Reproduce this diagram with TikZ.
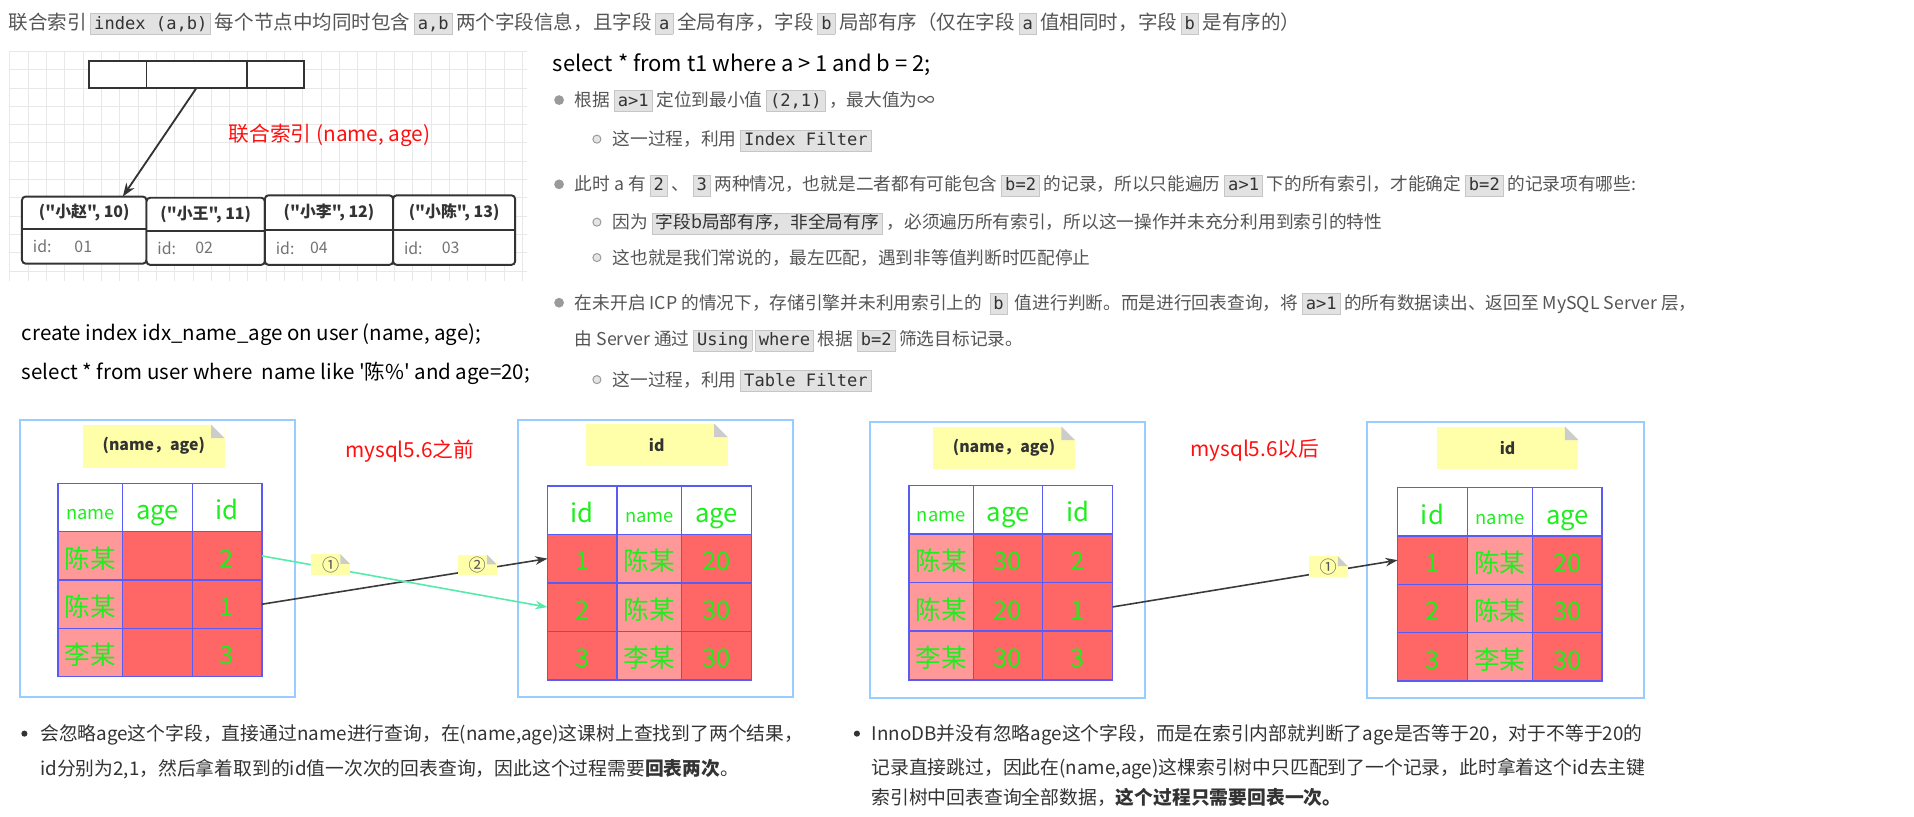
\documentclass[tikz,border=0pt]{standalone}
\usepackage{fontspec}
\setmainfont{Noto Sans CJK SC}[Ligatures=TeXOff]
\newfontfamily\mono{DejaVu Sans Mono}
\usetikzlibrary{arrows.meta,calc}
\definecolor{txg}{HTML}{555555}
\definecolor{bt}{HTML}{333333}
\definecolor{cdbg}{HTML}{E2E2E2}
\definecolor{cdbd}{HTML}{C6C6C6}
\definecolor{cdtx}{HTML}{333333}
\definecolor{gridc}{HTML}{E8E8E8}
\definecolor{pblue}{HTML}{99CCFF}
\definecolor{tbl}{HTML}{5A5AF5}
\definecolor{redA}{HTML}{FF6666}
\definecolor{redB}{HTML}{FF9999}
\definecolor{grn}{HTML}{1EEE1E}
\definecolor{yel}{HTML}{FFFFAA}
\definecolor{earc}{HTML}{CCCCCC}
\definecolor{mint}{HTML}{55EBA8}
\definecolor{darr}{HTML}{3A3A3A}
\definecolor{lbl}{HTML}{FF1010}
\definecolor{lfc}{HTML}{333333}
\definecolor{bul}{HTML}{9A9A9A}
\setlength\fboxsep{0pt}
\setlength\fboxrule{0.7pt}
\newcommand\cd[1]{\kern3pt\fcolorbox{cdbd}{cdbg}{\kern2.5pt\vrule width0pt height12.5pt depth4pt{\mono\fontsize{14}{16}\selectfont\color{cdtx}#1}\kern2.5pt}\kern3pt}
\newcommand\cdz[1]{\kern3pt\fcolorbox{cdbd}{cdbg}{\kern2.5pt\vrule width0pt height12.5pt depth4pt{\color{cdtx}#1}\kern2.5pt}\kern3pt}
\newcommand\dogear[2]{%
 \fill[white] ([xshift=-#2]#1.north east) -- (#1.north east) -- ([yshift=-#2]#1.north east) -- cycle;
 \fill[earc] ([xshift=-#2]#1.north east) -- ([xshift=-#2,yshift=-#2]#1.north east) -- ([yshift=-#2]#1.north east) -- cycle;}
\newcommand\cell[7]{\node[cellbox, fill=#6, minimum width=#4, minimum height=#5] (#1) at (#2,#3) {#7};}
\newcommand\nm{\fontsize{15}{18}\selectfont name}
\begin{document}
\begin{tikzpicture}[x=1pt,y=-1pt,
 every node/.style={inner sep=0pt, outer sep=0pt},
 lst/.style={anchor=base west, font=\fontsize{14.5}{17}\selectfont, text=txg},
 btx/.style={anchor=base west, font=\fontsize{15.4}{18}\selectfont, text=bt},
 sqlt/.style={anchor=base west, font=\fontsize{16.8}{19}\selectfont, text=black},
 cellbox/.style={draw=tbl, line width=1.2pt, anchor=north west, text=grn, font=\fontsize{21}{24}\selectfont, text height=21pt, text depth=1pt},
 note/.style={fill=yel, text=bt, font=\bfseries\fontsize{13}{15}\selectfont, minimum width=116, minimum height=35},
 tag/.style={fill=yel, text=txg, font=\fontsize{14}{16}\selectfont, minimum width=32, minimum height=17},
 panel/.style={draw=pblue, line width=1.6pt},
 leaf/.style={draw=lfc, line width=1.6pt, rounded corners=3pt, fill=white, anchor=north west},
 lfh/.style={font=\bfseries\fontsize{13}{15}\selectfont, text=bt},
 lfb/.style={anchor=west, font=\fontsize{13}{15}\selectfont, text=black!55},
 redlab/.style={font=\fontsize{17}{20}\selectfont, text=lbl},
 darrow/.style={darr, line width=1.3pt, -{Stealth[length=10pt,width=7pt]}},
 marrow/.style={mint, line width=1.3pt, -{Stealth[length=10pt,width=7pt]}}
]
\useasboundingbox (0,0) rectangle (1568,669.3);
\fill[white] (0,0) rectangle (1568,669.3);

% ---- line 1
\node[anchor=base west, font=\fontsize{16}{19}\selectfont, text=txg] (line1) at (7,23.9)
 {联合索引\cd{index (a,b)}每个节点中均同时包含\cd{a,b}两个字段信息，且字段\cd{a}全局有序，字段\cd{b}局部有序（仅在字段\cd{a}值相同时，字段\cd{b}是有序的）};

% ---- top-left B+ tree
\foreach \gx in {8,23,...,428} \draw[gridc, line width=0.6pt] (\gx,42) -- (\gx,230);
\foreach \gy in {42,57,...,222} \draw[gridc, line width=0.6pt] (8,\gy) -- (432,\gy);
\node[draw=lfc, line width=1.6pt, fill=white, minimum width=176, minimum height=22, anchor=north west] (root) at (73,50) {};
\draw[lfc, line width=1.6pt] (120,50) -- (120,72) (202,50) -- (202,72);
\node[leaf, minimum width=102, minimum height=55] (L1) at (18,161) {};
\node[leaf, minimum width=97, minimum height=55] (L2) at (120,162) {};
\node[leaf, minimum width=105, minimum height=57] (L3) at (217,160) {};
\node[leaf, minimum width=100, minimum height=57] (L4) at (322,160) {};
\draw[lfc, line width=1.6pt] (18,187.5) -- (120,187.5) (120,189) -- (217,189) (217,188.5) -- (322,188.5) (322,188.5) -- (422,188.5);
\node[lfh] (L1h) at (69,174.5) {("小赵", 10)};
\node[lfh] (L2h) at (168.5,175.5) {("小王", 11)};
\node[lfh] (L3h) at (269.5,174) {("小李", 12)};
\node[lfh] (L4h) at (372,174) {("小陈", 13)};
\node[lfb] (L1i) at (27,202) {id:};  \node[lfb] (L1v) at (61,202) {01};
\node[lfb] (L2i) at (129,203) {id:}; \node[lfb] (L2v) at (160,203) {02};
\node[lfb] (L3i) at (226,203) {id:}; \node[lfb] (L3v) at (254,203) {04};
\node[lfb] (L4i) at (331,203) {id:}; \node[lfb] (L4v) at (362,203) {03};
\draw[lfc, line width=1.5pt, -{Stealth[length=11pt,width=8pt]}] (root.south) -- ($(L1.north west)!0.81!(L1.north east)$);
\node[redlab] (lab1) at (270,110.5) {联合索引 (name, age)};

% ---- right list
\node[anchor=base west, font=\fontsize{18}{21}\selectfont, text=black] (sq1) at (453,58.5) {select * from t1 where a > 1 and b = 2;};
\fill[bul] (458,82) circle (4pt);
\node[lst] (b1) at (471,87.3) {根据\cd{a>1}定位到最小值\cd{(2,1)}，最大值为∞};
\filldraw[fill=black!10, draw=bul, line width=0.8pt] (489,114) circle (3.3pt);
\node[lst] (s1) at (502,119.3) {这一过程，利用\cd{Index Filter}};
\fill[bul] (458,151) circle (4pt);
\node[lst] (b2) at (471,156.3) {此时 a 有\cd{2}、\cd{3}两种情况，也就是二者都有可能包含\cd{b=2}的记录，所以只能遍历\cd{a>1}下的所有索引，才能确定\cd{b=2}的记录项有哪些:};
\filldraw[fill=black!10, draw=bul, line width=0.8pt] (489,182) circle (3.3pt);
\node[lst] (s2) at (502,187.3) {因为\cdz{字段b局部有序，非全局有序}，必须遍历所有索引，所以这一操作并未充分利用到索引的特性};
\filldraw[fill=black!10, draw=bul, line width=0.8pt] (489,211) circle (3.3pt);
\node[lst] (s3) at (502,216.3) {这也就是我们常说的，最左匹配，遇到非等值判断时匹配停止};
\fill[bul] (458,248) circle (4pt);
\node[lst] (b3) at (471,253.3) {在未开启 ICP 的情况下，存储引擎并未利用索引上的\kern3pt\cd{b}\kern3pt值进行判断。而是进行回表查询，将\cd{a>1}的所有数据读出、返回至 MySQL Server 层，};
\node[lst] (b3b) at (471,283.3) {由 Server 通过\cd{Using}\kern-4pt\cd{where}根据\cd{b=2}筛选目标记录。};
\filldraw[fill=black!10, draw=bul, line width=0.8pt] (489,311) circle (3.3pt);
\node[lst] (s4) at (502,316.3) {这一过程，利用\cd{Table Filter}};

% ---- SQL on the left
\node[sqlt] (cr1) at (18,279) {create index idx\_name\_age on user (name, age);};
\node[sqlt] (cr2) at (18,310.5) {select * from user where~~name like '陈\%' and age=20;};

% ---- panels
\draw[panel] (16,344) rectangle (242,571);
\draw[panel] (424,344) rectangle (650,571);
\draw[panel] (713,346) rectangle (938,572);
\draw[panel] (1120,346) rectangle (1347,572);

\node[note] (N1) at (126,365.5) {(name，age)};
\node[note] (N2) at (538,364.5) {id};
\node[note] (N3) at (822.5,367) {(name，age)};
\node[note] (N4) at (1235,367) {id};
\dogear{N1}{11}\dogear{N2}{11}\dogear{N3}{11}\dogear{N4}{11}

\node[redlab] (lab2) at (335.7,370) {mysql5.6之前};
\node[redlab] (lab3) at (1028,369) {mysql5.6以后};

% table A
\cell{A01}{47.5}{396}{53}{39.6}{white}{\nm}
\cell{A02}{100.5}{396}{57}{39.6}{white}{age}
\cell{A03}{157.5}{396}{57}{39.6}{white}{id}
\cell{A11}{47.5}{435.6}{53}{39.6}{redB}{陈某}
\cell{A12}{100.5}{435.6}{57}{39.6}{redA}{}
\cell{A13}{157.5}{435.6}{57}{39.6}{redA}{2}
\cell{A21}{47.5}{475.2}{53}{39.6}{redB}{陈某}
\cell{A22}{100.5}{475.2}{57}{39.6}{redA}{}
\cell{A23}{157.5}{475.2}{57}{39.6}{redA}{1}
\cell{A31}{47.5}{514.8}{53}{39.6}{redB}{李某}
\cell{A32}{100.5}{514.8}{57}{39.6}{redA}{}
\cell{A33}{157.5}{514.8}{57}{39.6}{redA}{3}
% table B
\cell{B01}{448.5}{398}{57}{39.75}{white}{id}
\cell{B02}{505.5}{398}{53}{39.75}{white}{\nm}
\cell{B03}{558.5}{398}{57}{39.75}{white}{age}
\cell{B11}{448.5}{437.75}{57}{39.75}{redA}{1}
\cell{B12}{505.5}{437.75}{53}{39.75}{redB}{陈某}
\cell{B13}{558.5}{437.75}{57}{39.75}{redA}{20}
\cell{B21}{448.5}{477.5}{57}{39.75}{redA}{2}
\cell{B22}{505.5}{477.5}{53}{39.75}{redB}{陈某}
\cell{B23}{558.5}{477.5}{57}{39.75}{redA}{30}
\cell{B31}{448.5}{517.25}{57}{39.75}{redA}{3}
\cell{B32}{505.5}{517.25}{53}{39.75}{redB}{李某}
\cell{B33}{558.5}{517.25}{57}{39.75}{redA}{30}
% table C
\cell{C01}{744.5}{397.7}{53}{39.8}{white}{\nm}
\cell{C02}{797.5}{397.7}{56.5}{39.8}{white}{age}
\cell{C03}{854}{397.7}{57.5}{39.8}{white}{id}
\cell{C11}{744.5}{437.5}{53}{39.8}{redB}{陈某}
\cell{C12}{797.5}{437.5}{56.5}{39.8}{redA}{30}
\cell{C13}{854}{437.5}{57.5}{39.8}{redA}{2}
\cell{C21}{744.5}{477.3}{53}{39.8}{redB}{陈某}
\cell{C22}{797.5}{477.3}{56.5}{39.8}{redA}{20}
\cell{C23}{854}{477.3}{57.5}{39.8}{redA}{1}
\cell{C31}{744.5}{517.1}{53}{39.8}{redB}{李某}
\cell{C32}{797.5}{517.1}{56.5}{39.8}{redA}{30}
\cell{C33}{854}{517.1}{57.5}{39.8}{redA}{3}
% table D
\cell{D01}{1145}{399.5}{57}{39.6}{white}{id}
\cell{D02}{1202}{399.5}{53.5}{39.6}{white}{\nm}
\cell{D03}{1255.5}{399.5}{57}{39.6}{white}{age}
\cell{D11}{1145}{439.1}{57}{39.6}{redA}{1}
\cell{D12}{1202}{439.1}{53.5}{39.6}{redB}{陈某}
\cell{D13}{1255.5}{439.1}{57}{39.6}{redA}{20}
\cell{D21}{1145}{478.7}{57}{39.6}{redA}{2}
\cell{D22}{1202}{478.7}{53.5}{39.6}{redB}{陈某}
\cell{D23}{1255.5}{478.7}{57}{39.6}{redA}{30}
\cell{D31}{1145}{518.3}{57}{39.6}{redA}{3}
\cell{D32}{1202}{518.3}{53.5}{39.6}{redB}{李某}
\cell{D33}{1255.5}{518.3}{57}{39.6}{redA}{30}

% arrows
\draw[darrow] (A23.east) -- node[tag, pos=0.754, yshift=4] (t2) {②} (B11.west);
\draw[marrow] (A13.east) -- node[tag, pos=0.241, yshift=3] (t1) {①} (B21.west);
\draw[darrow] (C23.east) -- node[tag, pos=0.756, yshift=4] (t3) {①} (D11.west);
\dogear{t1}{8}\dogear{t2}{8}\dogear{t3}{8}

% ---- bottom texts
\fill[bt] (20,601) circle (2.5pt);
\node[btx] (bl1) at (33,606.7) {会忽略age这个字段，直接通过name进行查询，在(name,age)这课树上查找到了两个结果，};
\node[btx] (bl2) at (33,635.5) {id分别为2,1，然后拿着取到的id值一次次的回表查询，因此这个过程需要\textbf{回表两次}。};
\fill[bt] (702,601) circle (2.5pt);
\node[btx] (br1) at (714,606.7) {InnoDB并没有忽略age这个字段，而是在索引内部就判断了age是否等于20，对于不等于20的};
\node[btx] (br2) at (714,634.1) {记录直接跳过，因此在(name,age)这棵索引树中只匹配到了一个记录，此时拿着这个id去主键};
\node[btx] (br3) at (714,658.7) {索引树中回表查询全部数据，\textbf{这个过程只需要回表一次。}};
\end{tikzpicture}
\end{document}
